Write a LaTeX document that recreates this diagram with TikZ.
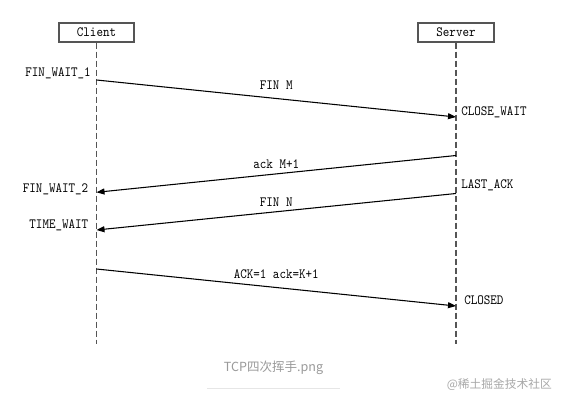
\documentclass[tikz,border=0pt]{standalone}
\usepackage{fontspec}
\usetikzlibrary{arrows.meta}
\newfontfamily\monof[FakeStretch=0.88]{Latin Modern Mono}
\newfontfamily\cjkf{Noto Sans CJK SC}
\definecolor{lifegray}{HTML}{555555}
\definecolor{capgray}{HTML}{9A9A9A}
\definecolor{wmgray}{HTML}{A8A8A8}
\definecolor{rulegray}{HTML}{E6E6E6}
\begin{document}
\begin{tikzpicture}[x=0.75pt,y=-0.75pt,
  actor/.style={draw=lifegray, line width=1.1pt, minimum width=56.25pt, minimum height=14.25pt, inner sep=0pt, font=\monof\fontsize{10.6}{10.6}\selectfont},
  life/.style={draw=lifegray, line width=1pt, dash pattern=on 4.5pt off 2.25pt},
  msg/.style={draw=black, line width=0.8pt, -{Triangle[length=6pt,width=4.5pt]}},
  lbl/.style={font=\monof\fontsize{10.6}{10.6}\selectfont, inner sep=0pt, text height=6.4pt, text depth=0pt},
  caption/.style={font=\cjkf\fontsize{9.4}{9.4}\selectfont, text=capgray, inner sep=0pt},
  wmark/.style={font=\cjkf\fontsize{8.8}{8.8}\selectfont, text=wmgray, inner sep=0pt}]
\useasboundingbox[fill=white] (0,0) rectangle (563,403);

% actors
\node[actor] (client) at (96.5,32.5) {Client};
\node[actor, minimum width=57pt] (server) at (456,32.5) {Server};

% lifeline ends
\coordinate (cend) at (96.5,344);
\coordinate (send) at (456,344);
\draw[life] (client.south) -- (cend);
\draw[life] (server.south) -- (send);

% message end points
\coordinate (c1) at (96.5,80);
\coordinate (s1) at (456,117);
\coordinate (s2) at (456,155.5);
\coordinate (c2) at (96.5,192.3);
\coordinate (s3) at (456,193.5);
\coordinate (c3) at (96.5,230);
\coordinate (c4) at (96.5,269);
\coordinate (s4) at (456,306);

% messages
\draw[msg] (c1) -- node[lbl, midway, yshift=10.1pt] (m1) {FIN M} (s1);
\draw[msg] (s2) -- node[lbl, midway, yshift=7.2pt] (m2) {ack M+1} (c2);
\draw[msg] (s3) -- node[lbl, midway, yshift=7.5pt] (m3) {FIN N} (c3);
\draw[msg] (c4) -- node[lbl, midway, yshift=10.1pt] (m4) {ACK=1 ack=K+1} (s4);

% states
\node[lbl, anchor=east] (st1) at (91,72) {FIN\_WAIT\_1};
\node[lbl, anchor=west] (st2) at (461,111) {CLOSE\_WAIT};
\node[lbl, anchor=east] (st3) at (88.5,188.7) {FIN\_WAIT\_2};
\node[lbl, anchor=west] (st4) at (461,184) {LAST\_ACK};
\node[lbl, anchor=east] (st5) at (88.5,224.5) {TIME\_WAIT};
\node[lbl, anchor=west] (st6) at (464,300) {CLOSED};

% caption and watermark
\node[caption] (cap) at (273.5,368) {TCP四次挥手.png};
\coordinate (r1) at (207,388);
\coordinate (r2) at (340,388);
\draw[rulegray, line width=0.6pt] (r1) -- (r2);
\node[wmark, anchor=east] (wm) at (552,385) {@稀土掘金技术社区};
\end{tikzpicture}
\end{document}
